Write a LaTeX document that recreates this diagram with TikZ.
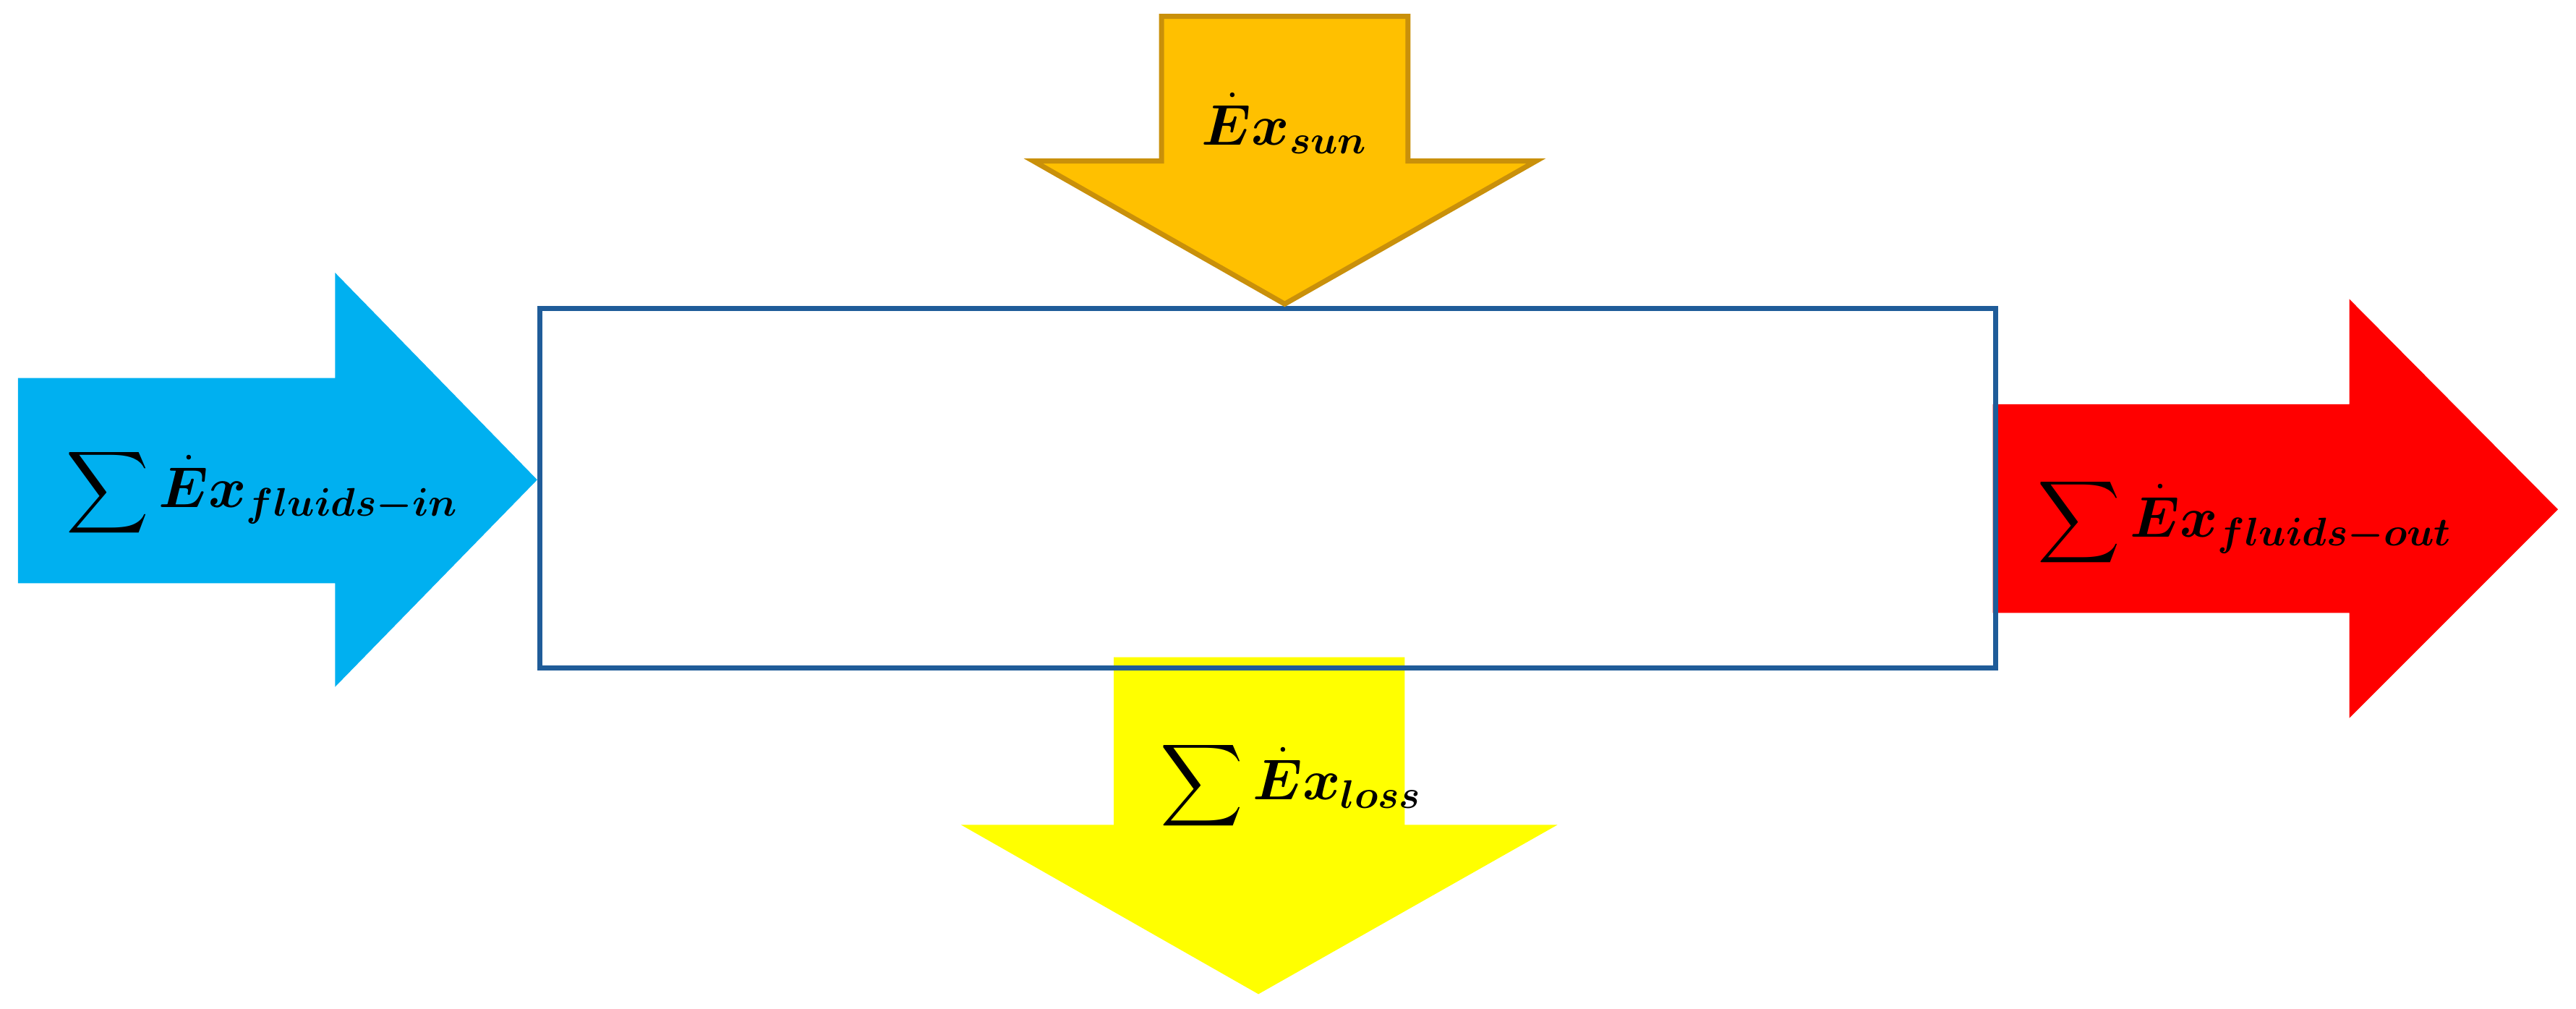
\documentclass[tikz,border=0pt]{standalone}
\usepackage{bm}
\usepackage{amsmath}
\definecolor{sunfill}{HTML}{FFC000}
\definecolor{sunline}{HTML}{C9900A}
\definecolor{boxline}{HTML}{1F5C99}
\definecolor{inblue}{HTML}{00B0F0}
\definecolor{lossyel}{HTML}{FFFF00}
\begin{document}
\begin{tikzpicture}[x=0.025cm,y=-0.025cm,
  lbl/.style={font=\fontsize{26}{30}\selectfont, inner sep=0pt}]
\useasboundingbox (0,0) rectangle (1568,614);
\fill[inblue] (11,230) -- (204,230) -- (204,166) -- (327,292) -- (204,418) -- (204,355) -- (11,355) -- cycle;
\fill[red] (1213,246) -- (1430,246) -- (1430,182) -- (1557,310) -- (1430,437) -- (1430,373) -- (1213,373) -- cycle;
\fill[lossyel] (678,400) -- (855,400) -- (855,502) -- (948,502) -- (766,605) -- (585,502) -- (678,502) -- cycle;
\node[draw=boxline, line width=2.2pt, minimum width=886*0.025cm, minimum height=219*0.025cm, anchor=north west, inner sep=0pt] (box) at (327,186) {};
\filldraw[fill=sunfill, draw=sunline, line width=2.2pt] (707,10) -- (857,10) -- (857,98) -- (935,98) -- (782,185) -- (629,98) -- (707,98) -- cycle;
\node[lbl] (sun) at (782,75) {$\dot{\bm{E}}\bm{x}_{\bm{sun}}$};
\node[lbl, anchor=west] (fin) at (40,300) {$\displaystyle\sum\dot{\bm{E}}\bm{x}_{\bm{fluids-in}}$};
\node[lbl, anchor=west] (fout) at (1240,318) {$\displaystyle\sum\dot{\bm{E}}\bm{x}_{\bm{fluids-out}}$};
\node[lbl, anchor=west] (loss) at (706,478) {$\displaystyle\sum\dot{\bm{E}}\bm{x}_{\bm{loss}}$};
\end{tikzpicture}
\end{document}
